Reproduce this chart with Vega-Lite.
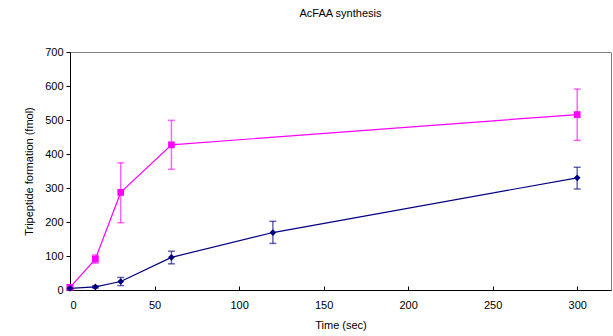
{
  "$schema": "https://vega.github.io/schema/vega-lite/v6.json",
  "width": 541,
  "height": 238,
  "autosize": {"type": "none"},
  "padding": {"left": 70, "top": 52, "right": 2, "bottom": 46},
  "background": "white",
  "config": {
    "font": "Liberation Sans",
    "view": {"stroke": "#808080", "strokeWidth": 1},
    "axis": {"grid": false, "domainColor": "black", "tickColor": "black", "labelColor": "black", "titleColor": "black", "labelFont": "Liberation Sans", "titleFont": "Liberation Sans", "labelFontSize": 11, "titleFontSize": 11, "titleFontWeight": "normal", "labelOverlap": false}
  },
  "title": {"text": "AcFAA synthesis", "fontSize": 11, "fontWeight": "normal", "font": "Liberation Sans", "color": "black", "offset": 27, "anchor": "middle"},
  "data": {"values": [
    {"series": "A", "time": 0, "value": 8, "lo": 2, "hi": 14},
    {"series": "A", "time": 15, "value": 91, "lo": 79, "hi": 103},
    {"series": "A", "time": 30, "value": 287, "lo": 198, "hi": 374},
    {"series": "A", "time": 60, "value": 427, "lo": 355, "hi": 499},
    {"series": "A", "time": 300, "value": 516, "lo": 440, "hi": 591},
    {"series": "B", "time": 0, "value": 5, "lo": 3, "hi": 7},
    {"series": "B", "time": 15, "value": 9, "lo": 6, "hi": 12},
    {"series": "B", "time": 30, "value": 25, "lo": 13, "hi": 37},
    {"series": "B", "time": 60, "value": 96, "lo": 77, "hi": 114},
    {"series": "B", "time": 120, "value": 169, "lo": 137, "hi": 202},
    {"series": "B", "time": 300, "value": 330, "lo": 297, "hi": 361}
  ]},
  "encoding": {
    "x": {"field": "time", "type": "quantitative", "scale": {"domain": [0, 320], "nice": false}, "axis": {"values": [0, 50, 100, 150, 200, 250, 300], "title": "Time (sec)", "tickSize": -4, "labelPadding": 13, "titlePadding": 9}},
    "color": {"field": "series", "type": "nominal", "scale": {"domain": ["A", "B"], "range": ["#FF00FF", "#000080"]}, "legend": null}
  },
  "layer": [
    {"mark": {"type": "line", "strokeWidth": 1.2}, "encoding": {"y": {"field": "value", "type": "quantitative", "scale": {"domain": [0, 700], "nice": false, "zero": true}, "axis": {"values": [0, 100, 200, 300, 400, 500, 600, 700], "title": "Tripeptide formation (fmol)", "tickSize": 4, "labelPadding": 3, "titlePadding": 10}}}},
    {"mark": {"type": "rule", "strokeWidth": 1.5, "opacity": 0.6}, "encoding": {"y": {"field": "lo", "type": "quantitative", "scale": {"domain": [0, 700], "nice": false, "zero": true}, "axis": {"values": [0, 100, 200, 300, 400, 500, 600, 700], "title": "Tripeptide formation (fmol)", "tickSize": 4, "labelPadding": 3, "titlePadding": 10}}, "y2": {"field": "hi"}}},
    {"mark": {"type": "tick", "orient": "horizontal", "size": 7, "thickness": 1.5, "opacity": 0.6}, "encoding": {"y": {"field": "lo", "type": "quantitative", "scale": {"domain": [0, 700], "nice": false, "zero": true}, "axis": {"values": [0, 100, 200, 300, 400, 500, 600, 700], "title": "Tripeptide formation (fmol)", "tickSize": 4, "labelPadding": 3, "titlePadding": 10}}}},
    {"mark": {"type": "tick", "orient": "horizontal", "size": 7, "thickness": 1.5, "opacity": 0.6}, "encoding": {"y": {"field": "hi", "type": "quantitative", "scale": {"domain": [0, 700], "nice": false, "zero": true}, "axis": {"values": [0, 100, 200, 300, 400, 500, 600, 700], "title": "Tripeptide formation (fmol)", "tickSize": 4, "labelPadding": 3, "titlePadding": 10}}}},
    {"mark": {"type": "point", "filled": true, "opacity": 1}, "encoding": {"y": {"field": "value", "type": "quantitative", "scale": {"domain": [0, 700], "nice": false, "zero": true}, "axis": {"values": [0, 100, 200, 300, 400, 500, 600, 700], "title": "Tripeptide formation (fmol)", "tickSize": 4, "labelPadding": 3, "titlePadding": 10}}, "shape": {"field": "series", "type": "nominal", "scale": {"domain": ["A", "B"], "range": ["square", "diamond"]}, "legend": null}, "size": {"field": "series", "type": "nominal", "scale": {"domain": ["A", "B"], "range": [45, 45]}, "legend": null}}}
  ]
}
